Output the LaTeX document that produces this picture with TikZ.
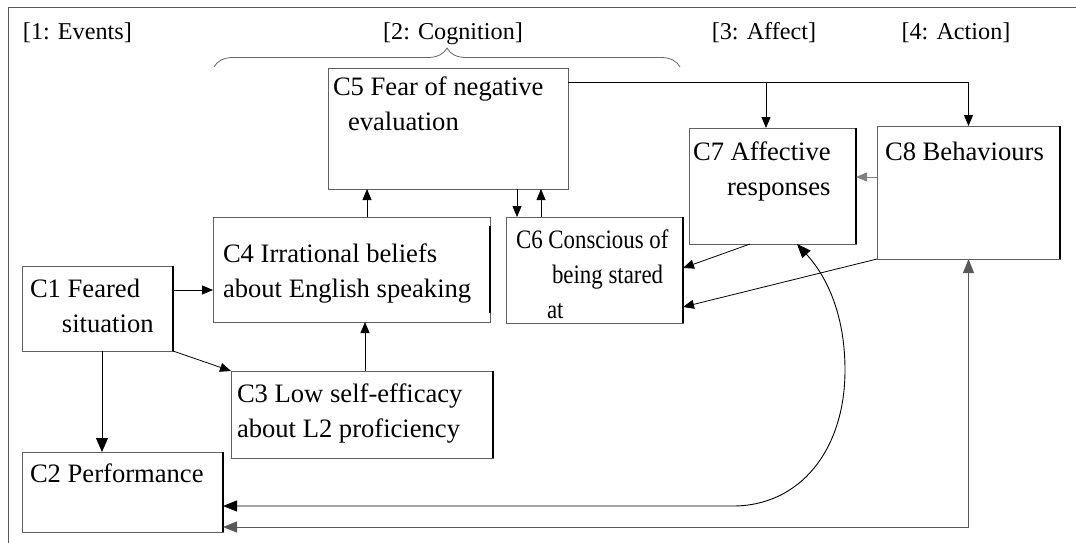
\documentclass[tikz,border=0pt]{standalone}
\usepackage{fontspec}
\setmainfont{Liberation Serif}
\newfontfamily\narrowserif[FakeStretch=0.86]{Liberation Serif}
\usetikzlibrary{arrows.meta, decorations.pathreplacing, calc}

\begin{document}
\begin{tikzpicture}[x=1pt, y=-1pt,
    every node/.style={inner sep=0pt, outer sep=0pt},
    box/.style={rectangle, draw=gray!75!black, line width=0.9pt, anchor=north west},
    txt/.style={anchor=base west, align=left, font=\fontsize{26.6}{35}\selectfont},
    head/.style={anchor=base, font=\fontsize{24.2}{29}\selectfont},
    edge/.style={line width=2pt, line cap=butt},
    arr/.style={draw, line width=0.8pt, -{Triangle[length=11pt, width=9pt]}},
    big/.style={draw, line width=0.9pt, -{Triangle[length=14pt, width=12pt]}},
    dbl/.style={draw, line width=0.9pt, {Triangle[length=14pt, width=11pt]}-{Triangle[length=14pt, width=11pt]}},
    frame/.style={draw=gray!70!black, line width=1.2pt},
    brace/.style={draw=gray!80!black, line width=0.8pt, decorate, decoration={brace, amplitude=19pt}}]

  \useasboundingbox (0,0) rectangle (1076,543);
  \draw[frame] (1076,7.5) -- (8.5,7.5) -- (8.5,543);

  % stage headings
  \node[head, anchor=base west] (h1) at (23,40) {[1: Events]};
  \node[head] (h2) at (453,40) {[2: Cognition]};
  \node[head] (h3) at (764,40) {[3: Affect]};
  \node[head] (h4) at (956,40) {[4: Action]};
  \draw[brace] (214,67) -- (680,67);

  % boxes
  \node[box, minimum width=151pt, minimum height=85pt]  (c1) at (22,266)  {};
  \node[box, minimum width=201pt, minimum height=80pt]  (c2) at (22,452)  {};
  \node[box, minimum width=262pt, minimum height=87pt]  (c3) at (231,371) {};
  \node[box, minimum width=277pt, minimum height=105pt] (c4) at (213,217) {};
  \node[box, minimum width=240pt, minimum height=121pt] (c5) at (328,68)  {};
  \node[box, minimum width=177pt, minimum height=106pt] (c6) at (506,217) {};
  \node[box, minimum width=167pt, minimum height=116pt] (c7) at (689,128) {};
  \node[box, minimum width=183pt, minimum height=133pt] (c8) at (877,126) {};

  \foreach \n in {c1,c2,c3,c6,c7,c8}
    \draw[edge] (\n.north east) -- (\n.south east);
  \draw[edge] ([yshift=-9pt]c4.north east) -- ([yshift=9pt]c4.south east);

  % box texts (base = last line)
  \node[txt] (t1) at ([shift={(8,66)}]c1.north west) {C1 Feared\\\hspace*{32pt}situation};
  \node[txt] (t2) at ([shift={(8,30)}]c2.north west) {C2 Performance};
  \node[txt] (t3) at ([shift={(6,66)}]c3.north west) {C3 Low self-efficacy\\about L2 proficiency};
  \node[txt] (t4) at ([shift={(10,80)}]c4.north west) {C4 Irrational beliefs\\about English speaking};
  \node[txt] (t5) at ([shift={(5,62)}]c5.north west) {C5 Fear of negative\\\hspace*{15pt}evaluation};
  \node[txt, font=\narrowserif\fontsize{26.6}{35}\selectfont] (t6) at ([shift={(10,101)}]c6.north west)
    {C6 Conscious of\\\hspace*{36pt}being stared\\\hspace*{31pt}at};
  \node[txt] (t7) at ([shift={(4,67)}]c7.north west) {C7 Affective\\\hspace*{34pt}responses};
  \node[txt] (t8) at ([shift={(8,34)}]c8.north west) {C8 Behaviours};

  % links
  \coordinate (top) at ([yshift=-14pt]c5.north east);
  \draw[arr] (top) -| (c8.north);
  \draw[arr] (top -| 766,0) -- (c7.north -| 766,0);
  \draw[arr] (c4.north -| 367,0) -- (c5.south -| 367,0);
  \draw[arr] (c5.south -| 517,0) -- (c6.north -| 517,0);
  \draw[arr] (c6.north -| 541,0) -- (c5.south -| 541,0);
  \draw[arr] (c1.east |- 0,290) -- (c4.west |- 0,290);
  \draw[arr] (c1.south east) -- (c3.north west);
  \draw[big] (c1.south -| 102,0) -- (c2.north -| 102,0);
  \draw[arr] (c3.north -| 365,0) -- (c4.south -| 365,0);
  \draw[arr, draw=gray] (c8.west |- 0,177) -- (c7.east |- 0,177);
  \draw[arr] (c7.south -| 750,0) -- (c6.east |- 0,268);
  \draw[arr] (c8.south west) -- (c6.east |- 0,307);

  % feedback to performance
  \draw[dbl] (c2.east |- 0,506) -- (733,506) .. controls (800,506) and (845,450) .. (845,370)
    .. controls (845,320) and (830,280) .. (c7.south -| 797,0);
  \draw[dbl, draw=gray!70!black] (c2.east |- 0,527) -| (c8.south);
\end{tikzpicture}
\end{document}
